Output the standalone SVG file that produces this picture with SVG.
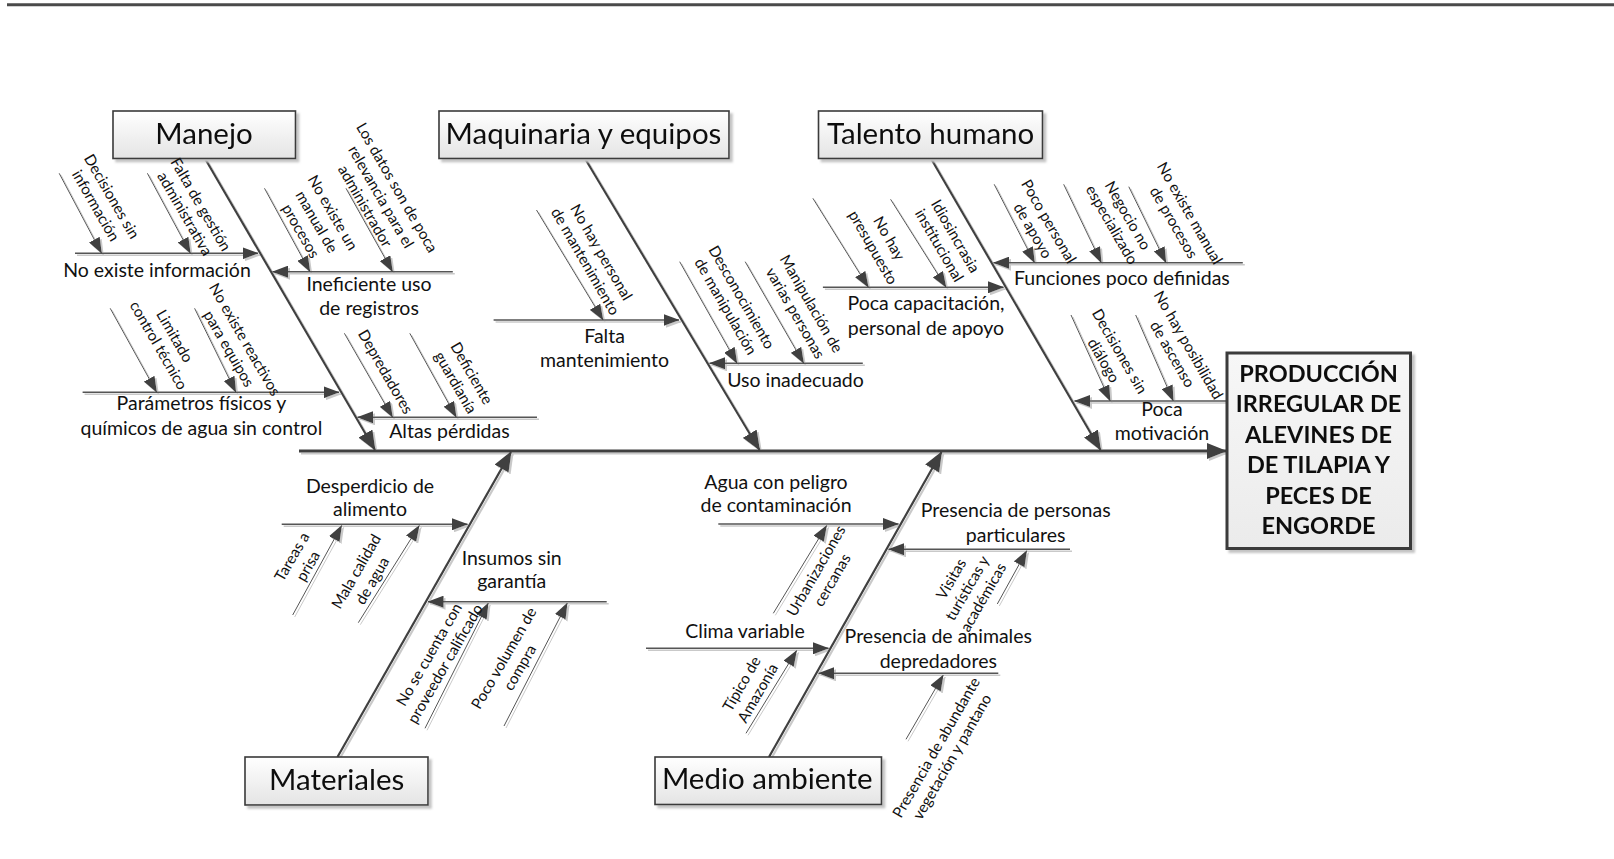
<svg xmlns="http://www.w3.org/2000/svg" width="1614" height="859" viewBox="0 0 1614 859">
<style>
text{font-family:Lato,"Open Sans","Liberation Sans",sans-serif;fill:#111;text-anchor:middle}
.cat{font-size:29.5px}
.sub{font-size:19.5px}
.rot{font-size:15.2px}
.eff{font-size:23.5px;font-weight:bold}
.main{stroke:#3f3f3f;stroke-width:2.2;fill:none}
.spine{stroke:#3f3f3f;stroke-width:3;fill:none}
.br{stroke:#555;stroke-width:1.5;fill:none}
.sm{stroke:#555;stroke-width:1;fill:none}
.box{fill:url(#g1);stroke:#3a3a3a;stroke-width:1.6}
.ebox{fill:url(#g2);stroke:#3a3a3a;stroke-width:3}
</style>
<defs>
<linearGradient id="g1" x1="0" y1="0" x2="0" y2="1"><stop offset="0" stop-color="#ffffff"/><stop offset="1" stop-color="#e4e4e4"/></linearGradient>
<linearGradient id="g2" x1="0" y1="0" x2="0" y2="1"><stop offset="0" stop-color="#f7f7f7"/><stop offset="1" stop-color="#ebebeb"/></linearGradient>
<filter id="sh" filterUnits="userSpaceOnUse" x="0" y="0" width="1614" height="859"><feFlood flood-color="#c9c9c9"/><feComposite in2="SourceAlpha" operator="in"/><feOffset dx="2" dy="2"/><feMerge><feMergeNode/><feMergeNode in="SourceGraphic"/></feMerge></filter>
<filter id="bsh" filterUnits="userSpaceOnUse" x="0" y="0" width="1614" height="859"><feFlood flood-color="#c4c4c4"/><feComposite in2="SourceAlpha" operator="in"/><feOffset dx="3" dy="3"/><feGaussianBlur stdDeviation="1"/><feMerge><feMergeNode/><feMergeNode in="SourceGraphic"/></feMerge></filter>
<marker id="ah" markerUnits="userSpaceOnUse" markerWidth="20" markerHeight="16" viewBox="0 0 20 16" refX="19" refY="8" orient="auto"><path d="M0,0 L20,8 L0,16 z" fill="#3f3f3f"/></marker>
<marker id="am" markerUnits="userSpaceOnUse" markerWidth="16" markerHeight="12" viewBox="0 0 16 12" refX="15.5" refY="6" orient="auto"><path d="M0,0 L16,6 L0,12 z" fill="#3f3f3f"/></marker>
</defs>
<rect width="1614" height="859" fill="#fff"/>
<line x1="7" y1="4.7" x2="1614" y2="4.7" stroke="#4a4a4a" stroke-width="3"/>

<g id="connectors" filter="url(#sh)">
<line class="spine" x1="299" y1="451" x2="1226" y2="451" marker-end="url(#ah)"/>
<line class="main" x1="205" y1="158.5" x2="375" y2="450" marker-end="url(#ah)"/>
<line class="main" x1="585" y1="158.5" x2="759.5" y2="450" marker-end="url(#ah)"/>
<line class="main" x1="931" y1="158.5" x2="1100.5" y2="450" marker-end="url(#ah)"/>
<line class="main" x1="337.5" y1="757" x2="511" y2="452" marker-end="url(#ah)"/>
<line class="main" x1="769" y1="757" x2="941.5" y2="452" marker-end="url(#ah)"/>

<line class="br" x1="75" y1="253.3" x2="258" y2="253.3" marker-end="url(#am)"/>
<line class="br" x1="82.6" y1="392.3" x2="339" y2="392.3" marker-end="url(#am)"/>
<line class="br" x1="452.8" y1="271.7" x2="272.5" y2="271.7" marker-end="url(#am)"/>
<line class="br" x1="537" y1="417.3" x2="357.5" y2="417.3" marker-end="url(#am)"/>
<line class="br" x1="493.6" y1="320" x2="679" y2="320" marker-end="url(#am)"/>
<line class="br" x1="862.8" y1="363.3" x2="709.5" y2="363.3" marker-end="url(#am)"/>
<line class="br" x1="822.9" y1="287.3" x2="1003.5" y2="287.3" marker-end="url(#am)"/>
<line class="br" x1="1242.8" y1="262.7" x2="993.5" y2="262.7" marker-end="url(#am)"/>
<line class="br" x1="1232" y1="401" x2="1074.5" y2="401" marker-end="url(#am)"/>
<line class="br" x1="281.7" y1="524.3" x2="467.5" y2="524.3" marker-end="url(#am)"/>
<line class="br" x1="606.7" y1="601.7" x2="428" y2="601.7" marker-end="url(#am)"/>
<line class="br" x1="718.3" y1="524" x2="898.5" y2="524" marker-end="url(#am)"/>
<line class="br" x1="1070" y1="549.3" x2="888.5" y2="549.3" marker-end="url(#am)"/>
<line class="br" x1="646" y1="648.3" x2="828.5" y2="648.3" marker-end="url(#am)"/>
<line class="br" x1="998.3" y1="673.3" x2="818.5" y2="673.3" marker-end="url(#am)"/>

<line class="sm" x1="59.2" y1="173.3" x2="101.6" y2="253.3" marker-end="url(#am)"/>
<line class="sm" x1="147.4" y1="173.3" x2="190.4" y2="253.3" marker-end="url(#am)"/>
<line class="sm" x1="264.5" y1="188.3" x2="310" y2="271.7" marker-end="url(#am)"/>
<line class="sm" x1="346" y1="188.3" x2="392.6" y2="271.7" marker-end="url(#am)"/>
<line class="sm" x1="110.2" y1="308.3" x2="156.7" y2="392.3" marker-end="url(#am)"/>
<line class="sm" x1="194.6" y1="308.3" x2="235.9" y2="392.3" marker-end="url(#am)"/>
<line class="sm" x1="344.4" y1="333.3" x2="392.6" y2="417.3" marker-end="url(#am)"/>
<line class="sm" x1="409.8" y1="333.3" x2="456.3" y2="417.3" marker-end="url(#am)"/>
<line class="sm" x1="536.5" y1="210" x2="603.1" y2="320" marker-end="url(#am)"/>
<line class="sm" x1="679.7" y1="261.7" x2="737" y2="363.3" marker-end="url(#am)"/>
<line class="sm" x1="745.2" y1="261.7" x2="803.7" y2="363.3" marker-end="url(#am)"/>
<line class="sm" x1="812.9" y1="198.3" x2="868.4" y2="287.3" marker-end="url(#am)"/>
<line class="sm" x1="890.6" y1="199.3" x2="946.1" y2="287.3" marker-end="url(#am)"/>
<line class="sm" x1="994.2" y1="184.3" x2="1034.6" y2="262.7" marker-end="url(#am)"/>
<line class="sm" x1="1063.7" y1="184.3" x2="1101.3" y2="262.7" marker-end="url(#am)"/>
<line class="sm" x1="1128.8" y1="186.7" x2="1166" y2="262.7" marker-end="url(#am)"/>
<line class="sm" x1="1071" y1="315" x2="1110.2" y2="401" marker-end="url(#am)"/>
<line class="sm" x1="1135.7" y1="315" x2="1173.3" y2="401" marker-end="url(#am)"/>

<line class="sm" x1="292.7" y1="615" x2="341.7" y2="525.5" marker-end="url(#am)"/>
<line class="sm" x1="358.3" y1="622.7" x2="419.3" y2="525.5" marker-end="url(#am)"/>
<line class="sm" x1="425" y1="728.3" x2="488.3" y2="603" marker-end="url(#am)"/>
<line class="sm" x1="504" y1="726" x2="567.3" y2="603" marker-end="url(#am)"/>
<line class="sm" x1="773.3" y1="613.3" x2="826.7" y2="525.5" marker-end="url(#am)"/>
<line class="sm" x1="997.3" y1="604" x2="1026.7" y2="550.7" marker-end="url(#am)"/>
<line class="sm" x1="746" y1="733.3" x2="796.7" y2="650.5" marker-end="url(#am)"/>
<line class="sm" x1="906" y1="739.3" x2="943.3" y2="675" marker-end="url(#am)"/>
</g>

<g id="node-manejo" filter="url(#bsh)"><rect class="box" x="113" y="111" width="182.5" height="47.5"/><text class="cat" x="204" y="143.5">Manejo</text></g>
<g id="node-maquinaria" filter="url(#bsh)"><rect class="box" x="439" y="111" width="290" height="47.5"/><text class="cat" x="583.5" y="143.5">Maquinaria y equipos</text></g>
<g id="node-talento" filter="url(#bsh)"><rect class="box" x="818.5" y="111" width="224" height="47.5"/><text class="cat" x="930.6" y="143.5">Talento humano</text></g>
<g id="node-materiales" filter="url(#bsh)"><rect class="box" x="245" y="757" width="183" height="48"/><text class="cat" x="336.7" y="790">Materiales</text></g>
<g id="node-medio" filter="url(#bsh)"><rect class="box" x="655" y="757" width="226.5" height="47.5"/><text class="cat" x="767.3" y="789">Medio ambiente</text></g>
<g id="node-efecto" filter="url(#bsh)"><rect class="ebox" x="1227" y="353" width="183.5" height="195.5"/>
<text class="eff" x="1318.5" y="381.5">PRODUCCIÓN</text>
<text class="eff" x="1318.5" y="412">IRREGULAR DE</text>
<text class="eff" x="1318.5" y="442.5">ALEVINES DE</text>
<text class="eff" x="1318.5" y="473">DE TILAPIA Y</text>
<text class="eff" x="1318.5" y="503.5">PECES DE</text>
<text class="eff" x="1318.5" y="534">ENGORDE</text></g>

<g id="labels-manejo">
<text class="sub" x="157" y="277.3">No existe información</text>
<text class="sub" x="369" y="290.7">Ineficiente uso<tspan x="369" dy="24.3">de registros</tspan></text>
<text class="sub" x="201.4" y="410">Parámetros físicos y<tspan x="201.4" dy="25">químicos de agua sin control</tspan></text>
<text class="sub" x="449.4" y="438.3">Altas pérdidas</text>
<text class="rot" transform="translate(104,201) rotate(60)"><tspan x="0" dy="-3.8">Decisiones sin</tspan><tspan x="0" dy="18.5">información</tspan></text>
<text class="rot" transform="translate(193,209) rotate(60)"><tspan x="0" dy="-3.8">Falta de gestión</tspan><tspan x="0" dy="18.5">administrativa</tspan></text>
<text class="rot" transform="translate(317,221.7) rotate(60)"><tspan x="0" dy="-13">No existe un</tspan><tspan x="0" dy="18.5">manual de</tspan><tspan x="0" dy="18.5">procesos</tspan></text>
<text class="rot" transform="translate(381.2,196.7) rotate(60)"><tspan x="0" dy="-13">Los datos son de poca</tspan><tspan x="0" dy="18.5">relevancia para el</tspan><tspan x="0" dy="18.5">administrador</tspan></text>
<text class="rot" transform="translate(166.8,340.7) rotate(60)"><tspan x="0" dy="-3.8">Limitado</tspan><tspan x="0" dy="18.5">control técnico</tspan></text>
<text class="rot" transform="translate(237,344) rotate(60)"><tspan x="0" dy="-3.8">No existe reactivos</tspan><tspan x="0" dy="18.5">para equipos</tspan></text>
<text class="rot" transform="translate(385.7,371.7) rotate(60)"><tspan x="0" dy="5.4">Depredadores</tspan></text>
<text class="rot" transform="translate(463.8,377.8) rotate(60)"><tspan x="0" dy="-3.8">Deficiente</tspan><tspan x="0" dy="18.5">guardianía</tspan></text>
</g>

<g id="labels-maquinaria">
<text class="sub" x="604.6" y="343.3">Falta<tspan x="604.6" dy="23.4">mantenimiento</tspan></text>
<text class="sub" x="795.5" y="386.7">Uso inadecuado</text>
<text class="rot" transform="translate(593.5,256.7) rotate(60)"><tspan x="0" dy="-3.8">No hay personal</tspan><tspan x="0" dy="18.5">de mantenimiento</tspan></text>
<text class="rot" transform="translate(733.8,301.7) rotate(60)"><tspan x="0" dy="-3.8">Desconocimiento</tspan><tspan x="0" dy="18.5">de manipulación</tspan></text>
<text class="rot" transform="translate(803.5,308.3) rotate(60)"><tspan x="0" dy="-3.8">Manipulación de</tspan><tspan x="0" dy="18.5">varias personas</tspan></text>
</g>

<g id="labels-talento">
<text class="sub" x="926" y="310">Poca capacitación,<tspan x="926" dy="25">personal de apoyo</tspan></text>
<text class="sub" x="1121.9" y="285">Funciones poco definidas</text>
<text class="sub" x="1162" y="416">Poca<tspan x="1162" dy="24">motivación</tspan></text>
<text class="rot" transform="translate(881.3,242.8) rotate(60)"><tspan x="0" dy="-3.8">No hay</tspan><tspan x="0" dy="18.5">presupuesto</tspan></text>
<text class="rot" transform="translate(947.5,240.7) rotate(60)"><tspan x="0" dy="-3.8">Idiosincrasia</tspan><tspan x="0" dy="18.5">institucional</tspan></text>
<text class="rot" transform="translate(1041,226) rotate(60)"><tspan x="0" dy="-3.8">Poco personal</tspan><tspan x="0" dy="18.5">de apoyo</tspan></text>
<text class="rot" transform="translate(1120,220) rotate(60)"><tspan x="0" dy="-3.8">Negocio no</tspan><tspan x="0" dy="18.5">especializado</tspan></text>
<text class="rot" transform="translate(1182,217.8) rotate(60)"><tspan x="0" dy="-3.8">No existe manual</tspan><tspan x="0" dy="18.5">de procesos</tspan></text>
<text class="rot" transform="translate(1111.8,355.8) rotate(60)"><tspan x="0" dy="-3.8">Decisiones sin</tspan><tspan x="0" dy="18.5">diálogo</tspan></text>
<text class="rot" transform="translate(1180.6,349.5) rotate(60)"><tspan x="0" dy="-3.8">No hay posibilidad</tspan><tspan x="0" dy="18.5">de ascenso</tspan></text>
</g>

<g id="labels-materiales">
<text class="sub" x="370" y="492.7">Desperdicio de<tspan x="370" dy="23.3">alimento</tspan></text>
<text class="sub" x="511.7" y="565">Insumos sin<tspan x="511.7" dy="23">garantía</tspan></text>
<text class="rot" transform="translate(299.8,561.3) rotate(-60)"><tspan x="0" dy="-3.8">Tareas a</tspan><tspan x="0" dy="18.5">prisa</tspan></text>
<text class="rot" transform="translate(364,576) rotate(-60)"><tspan x="0" dy="-3.8">Mala calidad</tspan><tspan x="0" dy="18.5">de agua</tspan></text>
<text class="rot" transform="translate(437,659) rotate(-60)"><tspan x="0" dy="-3.8">No se cuenta con</tspan><tspan x="0" dy="18.5">proveedor calificado</tspan></text>
<text class="rot" transform="translate(511.7,662.8) rotate(-60)"><tspan x="0" dy="-3.8">Poco volumen de</tspan><tspan x="0" dy="18.5">compra</tspan></text>
</g>

<g id="labels-medio">
<text class="sub" x="776" y="489.3">Agua con peligro<tspan x="776" dy="22.4">de contaminación</tspan></text>
<text class="sub" x="1015.7" y="517.3">Presencia de personas<tspan x="1015.7" dy="24.4">particulares</tspan></text>
<text class="sub" x="745" y="638.3">Clima variable</text>
<text class="sub" x="938.3" y="642.7">Presencia de animales<tspan x="938.3" dy="25.6">depredadores</tspan></text>
<text class="rot" transform="translate(824,575.3) rotate(-60)"><tspan x="0" dy="-3.8">Urbanizaciones</tspan><tspan x="0" dy="18.5">cercanas</tspan></text>
<text class="rot" transform="translate(967,588) rotate(-60)"><tspan x="0" dy="-13">Visitas</tspan><tspan x="0" dy="18.5">turísticas y</tspan><tspan x="0" dy="18.5">académicas</tspan></text>
<text class="rot" transform="translate(749.5,688.3) rotate(-60)"><tspan x="0" dy="-3.8">Típico de</tspan><tspan x="0" dy="18.5">Amazonía</tspan></text>
<text class="rot" transform="translate(944,752) rotate(-60)"><tspan x="0" dy="-3.8">Presencia de abundante</tspan><tspan x="0" dy="18.5">vegetación y pantano</tspan></text>
</g>
</svg>
